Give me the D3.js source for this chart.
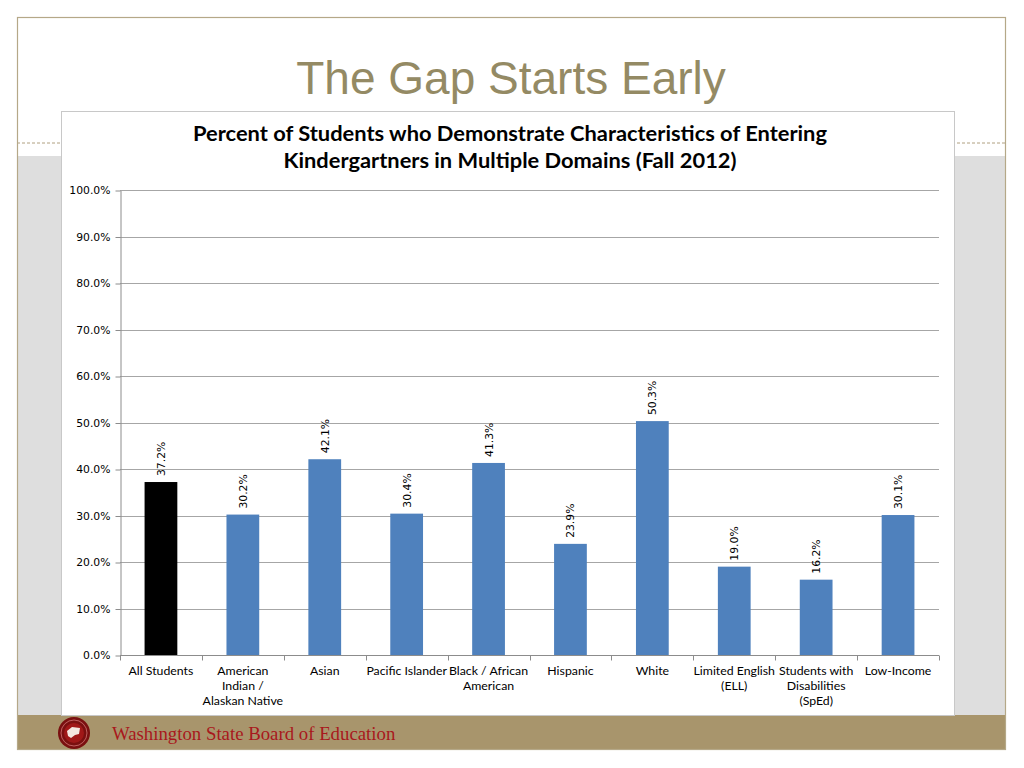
<!DOCTYPE html>
<html><head><meta charset="utf-8">
<script src="https://cdn.jsdelivr.net/npm/d3@7"></script>
<style>html,body{margin:0;padding:0;background:#fff;}svg{display:block;}</style>
</head><body>
<script>
const categories = [["All Students"],["American","Indian /","Alaskan Native"],["Asian"],["Pacific Islander"],["Black / African","American"],["Hispanic"],["White"],["Limited English","(ELL)"],["Students with","Disabilities","(SpEd)"],["Low-Income"]];
const values = [37.2,30.2,42.1,30.4,41.3,23.9,50.3,19.0,16.2,30.1];
const barColors = ["#000000","#4f81bd","#4f81bd","#4f81bd","#4f81bd","#4f81bd","#4f81bd","#4f81bd","#4f81bd","#4f81bd"];
const yTicks = [0,10,20,30,40,50,60,70,80,90,100];
const slideTitle = "The Gap Starts Early";
const chartTitle = ["Percent of Students who Demonstrate Characteristics of Entering","Kindergartners in Multiple Domains (Fall 2012)"];
const footerText = "Washington State Board of Education";

const W=1024,H=768;
const svg=d3.select("body").append("svg").attr("width",W).attr("height",H);
svg.append("rect").attr("width",W).attr("height",H).attr("fill","#fff");
// slide frame
svg.append("rect").attr("x",17).attr("y",156).attr("width",989).attr("height",560).attr("fill","#dedede");
svg.append("line").attr("x1",17).attr("x2",1006).attr("y1",143).attr("y2",143).attr("stroke","#b0a080").attr("stroke-dasharray","3,2").attr("stroke-width",1);
svg.append("rect").attr("x",17).attr("y",715).attr("width",989).attr("height",35).attr("fill","#a8956c");
svg.append("rect").attr("x",17.5).attr("y",17.5).attr("width",988).attr("height",732).attr("fill","none").attr("stroke","#b5a888").attr("stroke-width",1.2);
svg.append("text").attr("x",511).attr("y",94).attr("text-anchor","middle").attr("font-family","Liberation Sans, Arial, sans-serif").attr("font-size",46).attr("fill","#948a64").text(slideTitle);
// chart box
svg.append("rect").attr("x",61.5).attr("y",111.5).attr("width",893).attr("height",604).attr("fill","#fff").attr("stroke","#c8c8c8");
const titleLens=[634,453];
svg.append("text").attr("text-anchor","middle").attr("font-family","Lato, sans-serif").attr("font-weight","bold").attr("font-size",20).attr("fill","#000")
  .selectAll("tspan").data(chartTitle).join("tspan").attr("x",510).attr("y",(d,i)=>141+i*27).attr("textLength",(d,i)=>titleLens[i]).attr("lengthAdjust","spacingAndGlyphs").text(d=>d);

const m={l:120,r:939,t:190,b:655};
const x=d3.scaleBand().domain(d3.range(values.length)).range([m.l,m.r]).paddingInner(0.6).paddingOuter(0.3);
const xb=d3.scaleBand().domain(d3.range(values.length)).range([m.l,m.r]);
const y=d3.scaleLinear().domain([0,100]).range([m.b,m.t]);
const g=svg.append("g");
// gridlines
g.selectAll(".grid").data(yTicks.slice(1)).join("line").attr("x1",m.l).attr("x2",m.r).attr("y1",d=>Math.round(y(d))+0.5).attr("y2",d=>Math.round(y(d))+0.5).attr("stroke","#a6a6a6");
// y axis
const ya=g.append("g").attr("transform",`translate(${m.l+0.5},0.5)`).call(d3.axisLeft(y).tickValues(yTicks).tickSize(5).tickSizeOuter(0).tickFormat(d=>d.toFixed(1)+"%"));
ya.select(".domain").attr("stroke","#8c8c8c");
ya.selectAll(".tick line").attr("stroke","#8c8c8c");
ya.selectAll("text").attr("font-family","DejaVu Sans, Verdana, sans-serif").attr("font-size",10.8).attr("fill","#000").attr("dx",-2);
// bars
g.selectAll(".bar").data(values).join("rect").attr("x",(d,i)=>x(i)).attr("width",x.bandwidth()).attr("y",d=>y(d)).attr("height",d=>y(0)-y(d)).attr("fill",(d,i)=>barColors[i]);
// x axis
const xa=g.append("g").attr("transform",`translate(0,${m.b+0.5})`);
xa.append("line").attr("x1",m.l).attr("x2",m.r).attr("stroke","#8c8c8c");
xa.selectAll(".xt").data(d3.range(values.length+1)).join("line").attr("x1",i=>Math.round(m.l+i*xb.bandwidth())+0.5).attr("x2",i=>Math.round(m.l+i*xb.bandwidth())+0.5).attr("y1",0).attr("y2",5).attr("stroke","#8c8c8c");
// x labels
g.selectAll(".xl").data(categories).join("text").attr("text-anchor","middle").attr("font-family","Lato, sans-serif").attr("font-size",12.3).attr("fill","#000")
  .each(function(lines,i){d3.select(this).selectAll("tspan").data(lines).join("tspan").attr("x",xb(i)+xb.bandwidth()/2).attr("y",(d,j)=>675+j*15).text(d=>d);});
// data labels
g.selectAll(".dl").data(values).join("text").attr("font-family","DejaVu Sans, Verdana, sans-serif").attr("font-size",10.8).attr("fill","#000").attr("text-anchor","start")
  .attr("transform",(d,i)=>`translate(${x(i)+x.bandwidth()/2+4},${y(d)-6}) rotate(-90)`).text(d=>d.toFixed(1)+"%");
// footer logo
const lg=svg.append("g").attr("transform","translate(74,733)");
lg.append("circle").attr("r",16).attr("fill","#7a1010");
lg.append("circle").attr("r",13).attr("fill","none").attr("stroke","#c06060").attr("stroke-width",1);
lg.append("circle").attr("r",10).attr("fill","#a01818");
lg.append("path").attr("d","M-7,-2 L-2,-6 L6,-5 L5,1 L1,2 L-3,5 L-6,3 Z").attr("fill","#f4e8e0");
svg.append("text").attr("x",112).attr("y",740).attr("font-family","Liberation Serif, serif").attr("font-size",18.8).attr("fill","#a8181c").text(footerText);
</script>
</body></html>
